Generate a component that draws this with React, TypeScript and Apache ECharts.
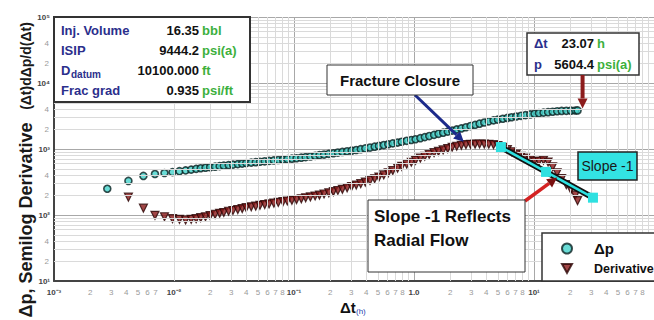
import { useEffect, useRef } from "react";
import * as echarts from "echarts";

// Shut-in time (h) and the two diagnostic curves
const elapsedHours = [
  0.00278, 0.00417, 0.00556, 0.00694, 0.00833, 0.00972, 0.0111, 0.0125, 0.0139, 0.0153, 0.0167,
  0.0183, 0.02, 0.022, 0.024, 0.026, 0.0285, 0.031, 0.034, 0.037, 0.04, 0.044, 0.048, 0.052,
  0.057, 0.062, 0.068, 0.074, 0.081, 0.088, 0.096, 0.105, 0.115, 0.125, 0.137, 0.15, 0.163,
  0.178, 0.195, 0.213, 0.232, 0.253, 0.277, 0.302, 0.33, 0.36, 0.393, 0.43, 0.47, 0.51, 0.56,
  0.61, 0.665, 0.73, 0.79, 0.87, 0.95, 1.03, 1.13, 1.23, 1.34, 1.47, 1.6, 1.75, 1.91, 2.08,
  2.27, 2.48, 2.71, 2.96, 3.23, 3.52, 3.85, 4.2, 4.6, 5.0, 5.5, 6.0, 6.5, 7.1, 7.8, 8.5, 9.3,
  10.1, 11.0, 12.0, 13.1, 14.3, 15.6, 17.0, 18.6, 20.3, 22.1, 23.07,
];
const deltaP = [
  250, 328, 391, 418, 433, 446, 461, 474, 487, 500, 511, 520, 530, 540, 550, 559, 570, 580, 590,
  601, 611, 622, 631, 641, 651, 661, 671, 681, 692, 702, 713, 724, 738, 753, 771, 789, 807, 824,
  844, 863, 883, 902, 923, 944, 966, 993, 1021, 1052, 1084, 1114, 1148, 1181, 1216, 1253, 1288,
  1330, 1368, 1406, 1459, 1514, 1570, 1636, 1698, 1765, 1833, 1901, 1977, 2051, 2136, 2228,
  2321, 2419, 2520, 2626, 2714, 2788, 2872, 2953, 3028, 3105, 3186, 3261, 3337, 3414, 3491,
  3556, 3614, 3666, 3733, 3776, 3793, 3811, 3829, 3840,
];
const semilogDerivative: (number | null)[] = [
  null, 186, 127, 99, 94, 88, 86, 84, 86, 88, 91, 94, 98, 102, 106, 109, 114, 117, 121, 125,
  129, 133, 136, 140, 144, 147, 151, 155, 159, 163, 167, 171, 176, 182, 188, 194, 200, 208, 217,
  226, 235, 245, 258, 270, 284, 298, 315, 333, 354, 375, 405, 436, 471, 512, 547, 589, 630, 673,
  726, 776, 826, 879, 920, 968, 1014, 1062, 1101, 1138, 1161, 1175, 1185, 1190, 1188, 1180,
  1161, 1127, 1057, 977, 908, 838, 771, 726, 681, 652, 652, 675, 634, 537, 435, 356, 288, 242,
  200, 165,
];

// Unit-slope (-1) reference line
const slopeLineHours = [5.3, 12.6, 31];
const slopeLineValues = [1070, 450, 183];

// Axis decades and tick labels
const xDecades = [0.001, 0.01, 0.1, 1, 10];
const xMajorLabels = ["10⁻³", "10⁻²", "10⁻¹", "1.0", "10¹"];
const xMinorDigits = [
  [2, 3, 4, 5, 6, 7],
  [2, 3, 4, 5, 6, 7, 8],
  [2, 3, 4, 5, 6, 7, 8],
  [2, 3, 4, 5, 6, 7, 8],
  [2, 3, 4, 5, 6, 7, 8],
];
const yDecades = [10, 100, 1000, 10000, 100000];
const yMajorLabels = ["10¹", "10²", "10³", "10⁴", "10⁵"];
const yMinorDigits = [2, 4];

// Summary table
const infoLabels = ["Inj. Volume", "ISIP", "D", "Frac grad"];
const infoValues = ["16.35", "9444.2", "10100.000", "0.935"];
const infoUnits = ["bbl", "psi(a)", "ft", "psi/ft"];

// Cursor read-out
const cursorHours = 23.07;
const cursorPressure = 5604.4;
const cursorDeltaP = 3840;

const FONT = '"Liberation Sans", Arial, Helvetica, sans-serif';
const NAVY = "#2b2f8c";
const GREEN = "#3db03d";

export default function App() {
  const ref = useRef<HTMLDivElement>(null);

  useEffect(() => {
    if (!ref.current) return;
    const chart = echarts.init(ref.current, undefined, { renderer: "svg" });

    const minorX: number[] = [];
    xDecades.forEach((d) => {
      for (let k = 2; k <= 9; k++) minorX.push(d * k);
    });
    const minorY: number[] = [];
    yDecades.slice(0, 4).forEach((d) => {
      for (let k = 2; k <= 9; k++) minorY.push(d * k);
    });

    chart.setOption({
      animation: false,
      grid: { left: 54, right: 0, top: 17, bottom: 39, containLabel: false },
      xAxis: {
        type: "log",
        min: 0.001,
        max: 100,
        logBase: 10,
        axisLine: { show: true, lineStyle: { color: "#444", width: 2 } },
        axisTick: { show: false },
        axisLabel: { show: false },
        splitLine: { show: true, lineStyle: { color: "#a8a8a8", width: 1 } },
      },
      yAxis: {
        type: "log",
        min: 10,
        max: 100000,
        logBase: 10,
        axisLine: { show: true, onZero: false, lineStyle: { color: "#444", width: 2 } },
        axisTick: { show: false },
        axisLabel: { show: false },
        splitLine: { show: true, lineStyle: { color: "#a8a8a8", width: 1 } },
      },
      legend: {
        data: [
          { name: "Δp", icon: "circle" },
          { name: "Derivative", icon: "path://M0,0 L10,0 L5,9 Z" },
        ],
        orient: "vertical",
        left: 556,
        top: 236,
        itemWidth: 10,
        itemHeight: 10,
        itemGap: 6,
        z: 20,
        formatter: (name: string) => (name === "Δp" ? `{b|${name}}` : `{n|${name}}`),
        textStyle: {
          rich: {
            b: { fontFamily: FONT, fontSize: 15, fontWeight: "bold", color: "#111", padding: [0, 0, 0, 17] },
            n: { fontFamily: FONT, fontSize: 12.5, fontWeight: "bold", color: "#111", padding: [0, 0, 0, 17] },
          },
        },
      },
      series: [
        {
          name: "minor-grid",
          type: "scatter",
          data: [],
          silent: true,
          z: 1,
          markLine: {
            silent: true,
            symbol: "none",
            label: { show: false },
            lineStyle: { color: "#dadada", width: 1, type: "solid" },
            data: [
              ...minorX.map((v) => ({ xAxis: v })),
              ...minorY.map((v) => ({ yAxis: v })),
            ],
          },
        },
        {
          name: "Δp",
          type: "scatter",
          symbol: "circle",
          symbolSize: 7,
          itemStyle: { color: "#45d3cc", borderColor: "#0a2222", borderWidth: 1.6 },
          data: elapsedHours.map((t, i) => [t, deltaP[i]]),
          z: 3,
        },
        {
          name: "Derivative",
          type: "scatter",
          symbol: "triangle",
          symbolRotate: 180,
          symbolSize: 8,
          itemStyle: { color: "#8a1818", borderColor: "#2a0505", borderWidth: 1.2 },
          data: elapsedHours
            .map((t, i) => [t, semilogDerivative[i]])
            .filter((p) => p[1] !== null),
          z: 4,
        },
        {
          name: "slope-outline",
          type: "line",
          data: slopeLineHours.map((t, i) => [t, slopeLineValues[i]]),
          showSymbol: false,
          lineStyle: { color: "#111", width: 6 },
          silent: true,
          z: 5,
        },
        {
          name: "slope",
          type: "line",
          data: slopeLineHours.map((t, i) => [t, slopeLineValues[i]]),
          symbol: "rect",
          symbolSize: 10,
          showSymbol: true,
          itemStyle: { color: "#2ee0e0", borderWidth: 0 },
          lineStyle: { color: "#2ee0e0", width: 2.5 },
          silent: true,
          z: 6,
        },
      ],
    });

    const xPix = (v: number) => chart.convertToPixel({ xAxisIndex: 0 }, v) as number;
    const yPix = (v: number) => chart.convertToPixel({ yAxisIndex: 0 }, v) as number;
    const pt = (t: number, v: number) => chart.convertToPixel({ gridIndex: 0 }, [t, v]) as number[];

    const g: any[] = [];
    const text = (x: number, y: number, s: string, o: any = {}) =>
      g.push({
        type: "text",
        x,
        y,
        z: o.z ?? 30,
        rotation: o.rotation ?? 0,
        style: {
          text: s,
          fontFamily: FONT,
          fontSize: o.size ?? 8,
          fontWeight: o.weight ?? "normal",
          fill: o.fill ?? "#333",
          align: o.align ?? "center",
          verticalAlign: o.valign ?? "middle",
        },
      });

    // x tick labels
    xDecades.forEach((d, i) => {
      text(xPix(d), 292, xMajorLabels[i], { weight: "bold", fill: "#444", size: 8 });
      xMinorDigits[i].forEach((k) => text(xPix(d * k), 292, String(k), { fill: "#9a9a9a", size: 8 }));
    });
    // y tick labels
    yDecades.forEach((d, i) => {
      text(50, yPix(d), yMajorLabels[i], { weight: "bold", fill: "#444", size: 8, align: "right" });
      if (i < yDecades.length - 1)
        yMinorDigits.forEach((k) =>
          text(49, yPix(d * k), String(k), { fill: "#9a9a9a", size: 8, align: "right" })
        );
    });

    // axis titles
    text(26, 220, "Δp, Semilog Derivative", { size: 18, weight: "bold", fill: "#1a1a1a", rotation: Math.PI / 2 });
    text(26, 66, "(Δt)dΔp/d(Δt)", { size: 14, weight: "bold", fill: "#1a1a1a", rotation: Math.PI / 2 });
    text(340, 307, "Δt", { size: 15, weight: "bold", fill: "#111", align: "left" });
    text(356, 311, "(h)", { size: 8, fill: "#2a3fb0", align: "left" });

    // summary table
    g.push({
      type: "rect",
      z: 25,
      shape: { x: 54, y: 17, width: 196, height: 85 },
      style: { fill: "#fff", stroke: "#333", lineWidth: 2 },
    });
    const rowY = [30, 50, 70, 90];
    infoLabels.forEach((l, i) => {
      text(61, rowY[i], l, { size: 13, weight: "bold", fill: NAVY, align: "left" });
      text(199, rowY[i], infoValues[i], { size: 13, weight: "bold", fill: "#111", align: "right" });
      text(202, rowY[i], infoUnits[i], { size: 13, weight: "bold", fill: GREEN, align: "left" });
    });
    text(71, 74, "datum", { size: 10, weight: "bold", fill: NAVY, align: "left" });

    // cursor read-out
    g.push({
      type: "rect",
      z: 25,
      shape: { x: 527, y: 33, width: 112, height: 42 },
      style: { fill: "#fff", stroke: "#333", lineWidth: 1.5 },
    });
    text(534, 43, "Δt", { size: 13, weight: "bold", fill: NAVY, align: "left" });
    text(594, 43, cursorHours.toFixed(2), { size: 13, weight: "bold", fill: "#111", align: "right" });
    text(597, 43, "h", { size: 13, weight: "bold", fill: GREEN, align: "left" });
    text(534, 64, "p", { size: 13, weight: "bold", fill: NAVY, align: "left" });
    text(594, 64, cursorPressure.toFixed(1), { size: 13, weight: "bold", fill: "#111", align: "right" });
    text(597, 64, "psi(a)", { size: 13, weight: "bold", fill: GREEN, align: "left" });

    const arrow = (x1: number, y1: number, x2: number, y2: number, color: string, head: string, w = 3) => {
      const a = Math.atan2(y2 - y1, x2 - x1);
      const L = 10;
      const H = 5;
      const bx = x2 - L * Math.cos(a);
      const by = y2 - L * Math.sin(a);
      g.push({ type: "line", z: 27, shape: { x1, y1, x2: bx, y2: by }, style: { stroke: color, lineWidth: w } });
      g.push({
        type: "polygon",
        z: 27,
        shape: {
          points: [
            [x2, y2],
            [bx + H * Math.sin(a), by - H * Math.cos(a)],
            [bx - H * Math.sin(a), by + H * Math.cos(a)],
          ],
        },
        style: { fill: head },
      });
    };

    const cur = pt(cursorHours, cursorDeltaP);
    arrow(cur[0] + 5, 75, cur[0] + 5, cur[1] - 2, "#8c1c1c", "#8c1c1c", 4);

    // Fracture closure call-out
    const fc = pt(2.6, 1160);
    arrow(415, 95, fc[0], fc[1] - 3, "#1c2a8a", "#1c2a8a", 3);
    g.push({
      type: "rect",
      z: 28,
      shape: { x: 327, y: 65, width: 146, height: 30 },
      style: { fill: "#fff", stroke: "#333", lineWidth: 1 },
    });
    text(400, 80, "Fracture Closure", { size: 15, weight: "bold", fill: "#111", z: 29 });

    // Radial flow call-out
    const rf = pt(15.6, 370);
    arrow(525, 201, rf[0], rf[1], "#d42222", "#7a1010", 3.5);
    g.push({
      type: "rect",
      z: 28,
      shape: { x: 368, y: 200, width: 157, height: 72 },
      style: { fill: "#fff", stroke: "#333", lineWidth: 1 },
    });
    text(374, 216, "Slope -1 Reflects", { size: 17, weight: "bold", fill: "#111", align: "left", z: 29 });
    text(374, 240, "Radial Flow", { size: 17, weight: "bold", fill: "#111", align: "left", z: 29 });

    // Slope -1 tag
    g.push({
      type: "rect",
      z: 28,
      shape: { x: 578, y: 152, width: 59, height: 28 },
      style: { fill: "#33e3e3", stroke: "#222", lineWidth: 1.5 },
    });
    text(607.5, 166, "Slope -1", { size: 14, fill: "#1a1a1a", z: 29 });

    // legend frame
    g.push({
      type: "rect",
      z: 15,
      shape: { x: 542, y: 233, width: 120, height: 48 },
      style: { fill: "#fff", stroke: "#333", lineWidth: 1.5 },
    });

    chart.setOption({ graphic: g });

    return () => chart.dispose();
  }, []);

  return (
    <div
      ref={ref}
      style={{ position: "fixed", left: 0, top: 0, width: 654, height: 320, background: "#fff" }}
    />
  );
}
